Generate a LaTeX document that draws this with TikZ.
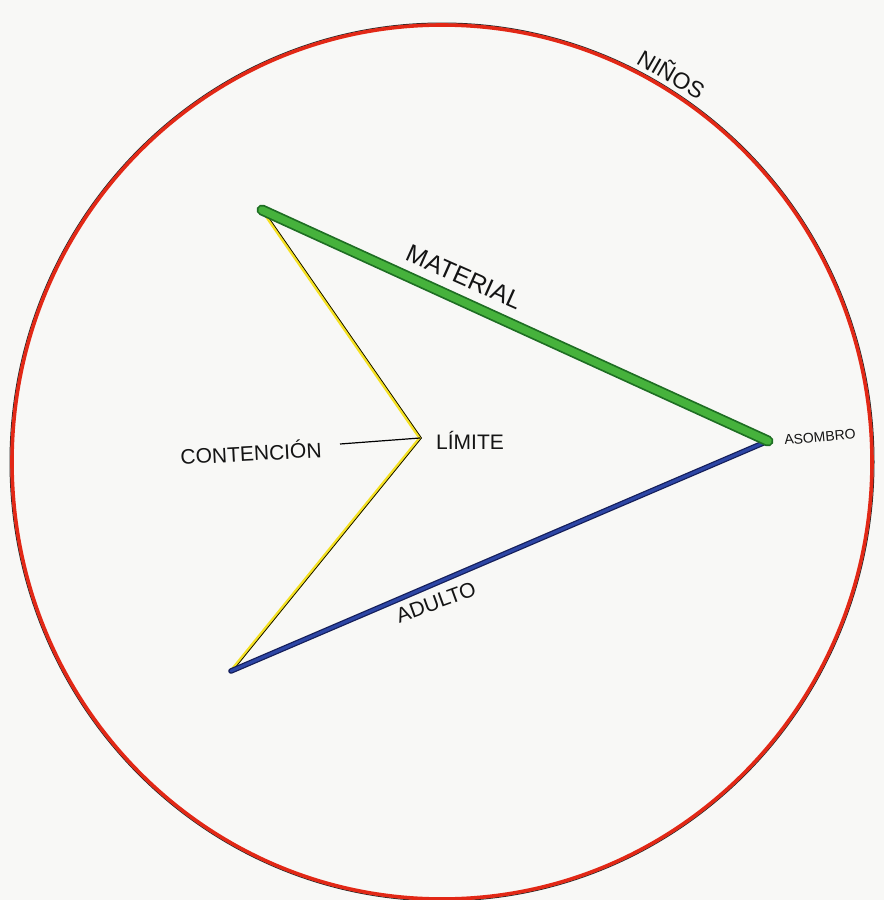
\documentclass[tikz,border=0pt]{standalone}
\usepackage{fontspec}
\setmainfont{Liberation Sans}
\begin{document}
\begin{tikzpicture}[x=1pt,y=-1pt,
  lbl/.style={inner sep=0pt, text=black!92, font=\fontsize{20}{22}\selectfont},
  redring/.style={draw=ringred, line width=3.6pt},
  ringedge/.style={draw=black!85, line width=1pt}]
\definecolor{ringred}{RGB}{226,40,22}
\definecolor{matgreen}{RGB}{70,178,60}
\definecolor{matgreendark}{RGB}{30,110,35}
\definecolor{adblue}{RGB}{45,70,165}
\definecolor{adbluedark}{RGB}{20,30,90}
\definecolor{limyellow}{RGB}{245,225,35}
\definecolor{paper}{RGB}{248,248,246}
\fill[paper] (0,0) rectangle (884,900);
\useasboundingbox (0,0) rectangle (884,900);
% ring
\draw[ringedge] (442,462) ellipse [x radius=432pt, y radius=439pt];
\draw[redring] (442,462) ellipse [x radius=430pt, y radius=437pt];
% vertices
\coordinate (A) at (262,210);
\coordinate (B) at (768,441);
\coordinate (C) at (231,671);
\coordinate (L) at (420,438);
\coordinate (K) at (340,444);
% yellow limit
\draw[limyellow, line width=3.2pt, line join=round, line cap=round] (A) -- (L) -- (C);
\draw[black, line width=0.7pt, line join=round, line cap=round] ([xshift=1.5pt]A) -- ([xshift=1.5pt]L) -- ([xshift=1.5pt]C);
% contencion connector
\draw[black, line width=1.2pt] (K) -- (L);
% blue adult
\draw[adbluedark, line width=5.5pt, line cap=round] (C) -- (B);
\draw[adblue, line width=3pt, line cap=round] (C) -- (B);
% green material
\draw[matgreendark, line width=11pt, line cap=round] (A) -- (B);
\draw[matgreen, line width=7.5pt, line cap=round] (A) -- (B);
% labels
\node[lbl, font=\fontsize{25}{27}\selectfont, rotate=-24] (mat) at (464,277) {MATERIAL};
\node[lbl, font=\fontsize{21}{23}\selectfont, rotate=20] (adu) at (436,602) {ADULTO};
\node[lbl, font=\fontsize{23}{25}\selectfont, rotate=-30] (nin) at (672,73) {NIÑOS};
\node[lbl, font=\fontsize{14}{16}\selectfont, rotate=5] (aso) at (820,437) {ASOMBRO};
\node[lbl, font=\fontsize{21}{23}\selectfont] (lim) at (470,440) {LÍMITE};
\node[lbl, font=\fontsize{21}{23}\selectfont, rotate=3] (con) at (251,452) {CONTENCIÓN};
\end{tikzpicture}
\end{document}
